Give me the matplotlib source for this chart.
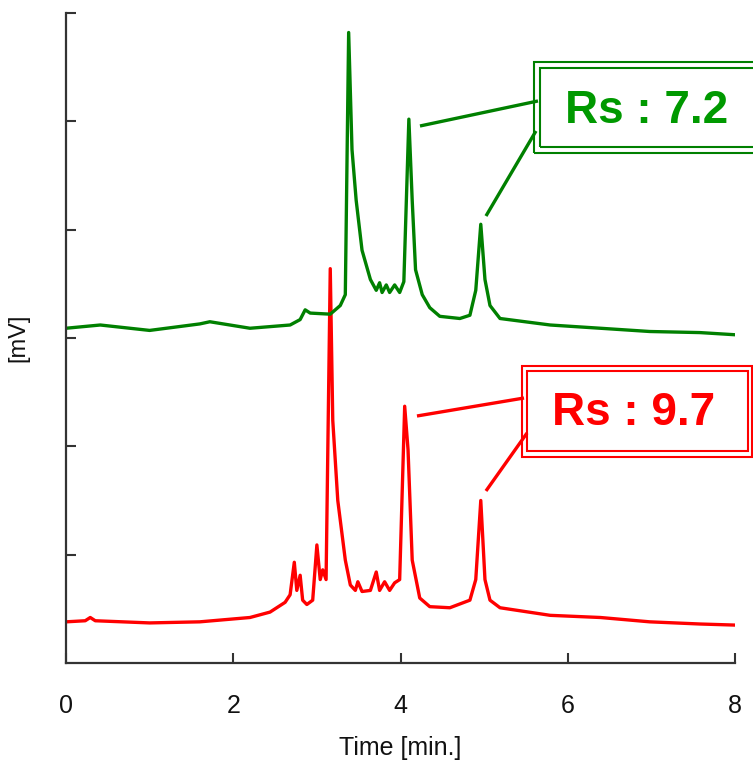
import matplotlib.pyplot as plt
from matplotlib.patches import Rectangle

# chromatogram traces (time in min, signal in axis units)
green_t = [0.00, 0.41, 1.00, 1.60, 1.72, 2.20, 2.68, 2.80, 2.86, 2.92, 3.16, 3.28, 3.34,
           3.38, 3.42, 3.47, 3.54, 3.64, 3.71, 3.75, 3.78, 3.83, 3.87, 3.93, 3.99, 4.04,
           4.10, 4.14, 4.18, 4.26, 4.35, 4.47, 4.71, 4.83, 4.90, 4.96, 5.01, 5.07, 5.19,
           5.79, 6.39, 6.98, 7.58, 8.00]
green_v = [3.09, 3.12, 3.07, 3.13, 3.15, 3.09, 3.12, 3.17, 3.26, 3.23, 3.22, 3.30, 3.40,
           5.82, 4.74, 4.27, 3.81, 3.54, 3.44, 3.51, 3.42, 3.49, 3.42, 3.49, 3.42, 3.52,
           5.02, 4.27, 3.63, 3.40, 3.28, 3.20, 3.18, 3.21, 3.44, 4.05, 3.54, 3.30, 3.18,
           3.12, 3.09, 3.06, 3.05, 3.03]

red_t = [0.00, 0.23, 0.29, 0.35, 1.00, 1.60, 2.20, 2.44, 2.62, 2.68, 2.73, 2.76, 2.80,
         2.83, 2.88, 2.95, 3.00, 3.04, 3.07, 3.11, 3.16, 3.19, 3.25, 3.34, 3.40, 3.46,
         3.49, 3.54, 3.64, 3.71, 3.75, 3.81, 3.87, 3.93, 3.99, 4.05, 4.09, 4.14, 4.23,
         4.35, 4.59, 4.83, 4.90, 4.96, 5.01, 5.07, 5.19, 5.79, 6.39, 6.98, 7.58, 8.00]
red_v = [0.38, 0.39, 0.42, 0.39, 0.37, 0.38, 0.42, 0.47, 0.56, 0.63, 0.93, 0.67, 0.81,
         0.58, 0.54, 0.58, 1.09, 0.77, 0.86, 0.77, 3.64, 2.24, 1.50, 0.95, 0.72, 0.67,
         0.75, 0.66, 0.67, 0.84, 0.67, 0.75, 0.67, 0.74, 0.77, 2.37, 1.97, 0.95, 0.60,
         0.52, 0.51, 0.58, 0.77, 1.50, 0.77, 0.58, 0.51, 0.44, 0.42, 0.38, 0.36, 0.35]

x_ticks = [0, 2, 4, 6, 8]
y_ticks = [1, 2, 3, 4, 5, 6]

GREEN = "#008000"
TEXT_GREEN = "#009900"
RED = "#ff0000"

plt.rcParams["font.family"] = ["Liberation Sans", "DejaVu Sans"]

fig = plt.figure(figsize=(7.53, 7.64), dpi=100)
ax = fig.add_axes([66 / 753, 101 / 764, 669 / 753, 650 / 764])

ax.plot(red_t, red_v, color=RED, lw=2.4, solid_joinstyle="round")
ax.plot(green_t, green_v, color=GREEN, lw=2.4, solid_joinstyle="round")

ax.set_xlim(0, 8)
ax.set_ylim(0, 6)
ax.set_xticks(x_ticks)
ax.set_yticks(y_ticks)
ax.set_yticklabels([])
ax.tick_params(direction="in", length=7, width=1.5, color="#333333",
               labelsize=18, pad=22)
ax.tick_params(axis="x", labelcolor="#111111")
for side in ("top", "right"):
    ax.spines[side].set_visible(False)
for side in ("left", "bottom"):
    ax.spines[side].set_color("#333333")
    ax.spines[side].set_linewidth(1.6)

ax.set_xlabel("Time [min.]", fontsize=18, color="#111111")
ax.xaxis.set_label_coords(0.5, -0.112)
ax.set_ylabel("[mV]", fontsize=17, color="#111111")
ax.yaxis.set_label_coords(-0.055, 0.5)


def rs_box(outer, inner, color, text_color, label, text_xy, leaders):
    for (x0, y0, x1, y1) in (outer, inner):
        ax.add_patch(Rectangle((x0, y0), x1 - x0, y1 - y0, fill=False,
                               edgecolor=color, lw=1.5, clip_on=False))
    for (xa, ya, xb, yb) in leaders:
        ax.plot([xa, xb], [ya, yb], color=color, lw=2.4, clip_on=False,
                solid_capstyle="butt")
    ax.text(text_xy[0], text_xy[1], label, color=text_color, fontsize=33,
            fontweight="bold", ha="center", va="center")


rs_box((5.596, 4.708, 8.40, 5.548), (5.668, 4.763, 8.33, 5.492), GREEN, TEXT_GREEN,
       "Rs : 7.2", (6.94, 5.10),
       [(4.233, 4.957, 5.644, 5.188), (5.022, 4.126, 5.620, 4.911)])
rs_box((5.453, 1.902, 8.203, 2.742), (5.513, 1.957, 8.155, 2.695), RED, RED,
       "Rs : 9.7", (6.79, 2.31),
       [(4.197, 2.280, 5.477, 2.446), (5.022, 1.588, 5.513, 2.123)])

fig.savefig("out.png", dpi=100)
